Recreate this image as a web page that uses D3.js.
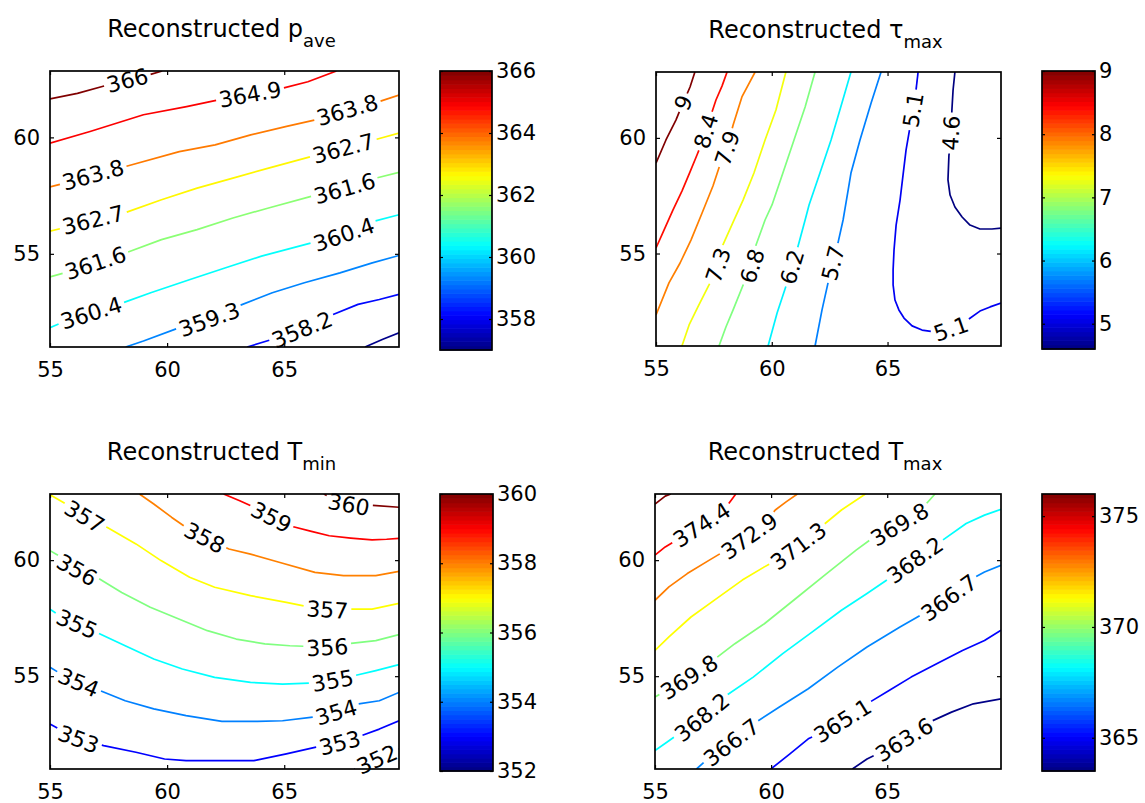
<!DOCTYPE html>
<html><head><meta charset="utf-8">
<script src="https://cdn.jsdelivr.net/npm/d3@7"></script>
<style>
body{margin:0;background:#fff;}
svg text{font-family:"DejaVu Sans",sans-serif;fill:#000;}
</style></head><body>
<svg id="chart" width="1145" height="803"></svg>
<script>
// ---------------- data ----------------
const xTicks = [55, 60, 65];
const yTicks = [55, 60];
const xDomain = [55, 69.9];
const yDomain = [51, 62.85];

// Panel 1: p_ave
const pAveRange = [357, 366];
const pAveCbarTicks = [358, 360, 362, 364, 366];
const pAveLines = [
  [366,   [[55,61.65],[56.17,61.89],[57.47,62.25],[59.22,62.68],[59.79,62.85]]],
  [364.9, [[55,59.75],[56.71,60.25],[58.99,60.97],[60.83,61.32],[62.20,61.61],[63.57,61.85],[64.94,62.11],[66.01,62.39],[67.23,62.85]]],
  [363.8, [[55,57.87],[55.49,58.00],[56.86,58.40],[58.23,58.75],[60.52,59.39],[62.05,59.68],[63.57,60.11],[65.10,60.47],[66.32,60.75],[67.69,61.18],[69.06,61.54],[69.9,61.82]]],
  [362.7, [[55,55.97],[55.56,56.11],[56.86,56.47],[58.16,56.75],[59.76,57.32],[61.28,57.82],[62.81,58.25],[64.33,58.68],[66.16,59.18],[67.54,59.54],[68.83,59.89],[69.9,60.18]]],
  [361.6, [[55,54.01],[55.61,54.18],[56.94,54.61],[58.23,55.04],[59.76,55.61],[61.28,56.04],[62.81,56.54],[64.33,56.97],[66.16,57.47],[67.61,57.82],[68.91,58.25],[69.9,58.50]]],
  [360.4, [[55,51.83],[55.64,52.11],[56.78,52.47],[57.93,52.83],[59.30,53.33],[60.98,53.90],[62.50,54.40],[64.03,54.90],[66.16,55.47],[67.54,55.83],[68.83,56.40],[69.9,56.68]]],
  [359.3, [[58.23,51],[58.99,51.26],[60.52,51.83],[61.82,52.19],[63.04,52.76],[64.49,53.33],[65.86,53.76],[67.38,54.18],[68.76,54.61],[69.9,54.93]]],
  [358.2, [[63.42,51],[64.49,51.33],[65.78,51.76],[66.93,52.33],[68.15,52.83],[69.06,53.04],[69.9,53.26]]],
  [357.1, [[68.45,51],[69.21,51.33],[69.9,51.61]]]
];
const pAveLabels = [
  ["366",58.34,62.3],["364.9",63.57,61.68],
  ["363.8",56.86,58.32],["363.8",67.69,61.18],
  ["362.7",56.86,56.40],["362.7",67.54,59.47],
  ["361.6",56.94,54.61],["361.6",67.61,57.68],
  ["360.4",56.78,52.40],["360.4",67.54,55.85],
  ["359.3",61.82,52.11],["358.2",65.78,51.69]
];

// Panel 2: tau_max
const tauRange = [4.6, 9.0];
const tauCbarTicks = [5, 6, 7, 8, 9];
const tauLines = [
  [9,   [[55,58.91],[55.43,59.91],[55.86,60.77],[56.04,61.21],[56.47,62.20],[56.68,62.85]]],
  [8.4, [[55,55.24],[55.35,56.02],[55.73,56.88],[56.12,57.70],[56.47,58.53],[56.77,59.26],[57.07,60.00],[57.33,60.86],[57.59,61.64],[57.85,62.24],[58.07,62.85]]],
  [7.9, [[55,52.34],[55.56,53.73],[56.04,54.59],[56.51,55.58],[56.99,56.75],[57.46,57.92],[57.76,58.83],[58.07,59.56],[58.33,60.56],[58.71,61.77],[59.28,62.85]]],
  [7.3, [[60.61,62.85],[60.18,61.21],[59.71,59.91],[59.23,58.48],[58.76,57.31],[58.33,56.36],[57.89,55.37],[57.68,54.50],[57.29,53.64],[56.81,52.69],[56.43,51.91],[56.12,51]]],
  [6.8, [[61.87,62.85],[61.44,61.34],[60.96,59.91],[60.48,58.48],[60.01,57.10],[59.71,56.45],[59.32,55.37],[59.15,54.46],[58.80,53.73],[58.33,52.56],[58.02,51.82],[57.72,51]]],
  [6.2, [[63.42,62.85],[63.03,61.51],[62.56,59.91],[62.08,58.48],[61.61,57.10],[61.44,56.45],[61.09,55.15],[60.87,54.42],[60.66,53.73],[60.23,52.43],[59.84,51]]],
  [5.7, [[64.72,62.85],[64.29,61.51],[63.81,59.91],[63.42,58.48],[63.30,57.75],[63.08,56.45],[62.82,55.28],[62.64,54.59],[62.43,53.73],[62.17,52.56],[61.87,51]]],
  [5.1, [[66.32,62.85],[66.23,62.07],[66.10,61.21],[65.97,60.47],[65.80,59.48],[65.67,58.40],[65.54,57.31],[65.37,56.23],[65.28,55.15],[65.24,54.29],[65.24,53.64],[65.32,52.99],[65.49,52.56],[65.71,52.21],[66.06,51.87],[66.49,51.69],[67.05,51.61],[67.74,51.74],[68.39,52.08],[68.99,52.51],[69.43,52.69],[69.9,52.86]]],
  [4.6, [[67.91,62.85],[67.83,62.07],[67.78,61.21],[67.74,60.21],[67.65,59.22],[67.61,58.18],[67.70,57.53],[67.91,57.01],[68.22,56.58],[68.56,56.23],[68.99,56.06],[69.51,56.06],[69.9,56.10]]]
];
const tauLabels = [
  ["9",56.21,61.51],["8.4",57.12,60.30],["7.9",58.07,59.56],
  ["7.3",57.68,54.50],["6.8",59.15,54.46],["6.2",60.87,54.42],["5.7",62.64,54.59],
  ["5.1",66.10,61.21],["4.6",67.74,60.21],["5.1",67.74,51.74]
];

// Panel 3: T_min
const tminRange = [352, 360];
const tminCbarTicks = [352, 354, 356, 358, 360];
const tminLines = [
  [360, [[66.69,62.85],[67.3,62.55],[67.76,62.40],[68.75,62.36],[69.9,62.28]]],
  [359, [[62.41,62.85],[63.10,62.56],[63.71,62.28],[64.47,61.84],[65.39,61.44],[66.16,61.24],[66.92,61.05],[67.84,60.95],[68.75,60.87],[69.37,60.90],[69.9,60.94]]],
  [358, [[58.82,62.85],[59.43,62.42],[60.20,61.84],[60.81,61.41],[61.57,60.98],[62.33,60.62],[62.64,60.48],[63.56,60.26],[64.78,59.91],[66.31,59.47],[67.53,59.33],[68.91,59.33],[69.9,59.52]]],
  [357, [[55,62.82],[55.92,62.28],[56.53,61.84],[57.45,61.41],[58.67,60.70],[59.74,59.98],[60.96,59.26],[62.03,58.83],[63.56,58.47],[65.09,58.18],[66.00,57.99],[66.84,57.87],[67.76,57.89],[68.75,57.89],[69.9,58.14]]],
  [356, [[55,60.41],[55.38,60.19],[56.15,59.58],[56.99,59.26],[58.06,58.61],[59.28,57.97],[60.50,57.46],[61.72,56.96],[62.95,56.60],[64.17,56.39],[65.24,56.31],[66.84,56.25],[67.84,56.41],[68.91,56.53],[69.9,56.79]]],
  [355, [[55,57.89],[55.5,57.55],[56.15,57.25],[56.99,56.89],[58.21,56.31],[59.43,55.74],[60.65,55.31],[62.03,54.95],[63.56,54.73],[64.93,54.66],[66.16,54.70],[67.07,54.81],[67.99,55.02],[68.91,55.24],[69.9,55.50]]],
  [354, [[55,55.38],[55.6,55.02],[56.22,54.73],[57.14,54.38],[58.21,53.94],[59.43,53.59],[60.81,53.30],[62.34,53.05],[63.86,53.05],[64.93,53.08],[66.31,53.25],[67.23,53.45],[68.14,53.80],[69.06,53.94],[69.9,54.30]]],
  [353, [[55,52.94],[55.6,52.6],[56.22,52.29],[57.29,52.01],[58.67,51.72],[59.89,51.43],[60.81,51.36],[62.18,51.36],[63.71,51.36],[65.09,51.65],[66.31,51.93],[67.38,52.13],[68.30,52.44],[69.06,52.72],[69.9,53.08]]],
  [352, [[67.99,51],[68.91,51.40],[69.9,51.86]]]
];
const tminLabels = [
  ["360",67.76,62.4],["359",64.40,61.77],["358",61.57,60.91],
  ["357",56.48,61.88],["357",66.84,57.8],
  ["356",56.15,59.58],["356",66.84,56.17],
  ["355",56.15,57.25],["355",67.07,54.81],
  ["354",56.22,54.73],["354",67.23,53.40],
  ["353",56.22,52.29],["353",67.38,52.08],
  ["352",68.98,51.36]
];

// Panel 4: T_max
const tmaxRange = [363.5, 376];
const tmaxCbarTicks = [365, 370, 375];
const tmaxLines = [
  [376,   [[55,62.42],[55.44,62.76],[55.68,62.85]]],
  [374.4, [[55,60.22],[55.44,60.57],[55.92,60.86],[56.55,61.22],[57.34,61.73],[58.13,62.37],[58.48,62.85]]],
  [372.9, [[55,58.27],[55.60,58.85],[56.39,59.42],[57.34,60.00],[58.29,60.57],[59.08,61.05],[59.71,61.58],[60.18,62.16],[60.66,62.52],[61.13,62.85]]],
  [371.3, [[55,56.11],[55.60,56.69],[56.55,57.55],[57.65,58.34],[58.76,59.14],[59.71,59.71],[60.4,60.1],[61.13,60.57],[62.24,61.51],[63.03,62.16],[64.06,62.85]]],
  [369.8, [[55,54.10],[55.7,54.5],[56.47,54.96],[57.50,55.68],[58.44,56.40],[59.71,57.26],[60.97,58.27],[62.39,59.42],[63.66,60.43],[64.45,61.01],[65.55,61.55],[66.50,62.23],[67.06,62.85]]],
  [368.2, [[55,51.79],[55.60,52.22],[56.3,52.7],[57.02,53.23],[57.97,54.10],[59.23,54.96],[60.50,55.97],[61.76,56.90],[63.03,57.84],[64.13,58.56],[65.08,59.21],[67.29,60.79],[68.40,61.58],[69.19,61.94],[69.9,62.19]]],
  [366.7, [[56.79,51],[57.34,51.50],[58.29,52.15],[59.23,52.94],[60.34,53.66],[61.60,54.46],[62.87,55.39],[64.13,56.26],[65.55,57.12],[66.82,57.85],[67.69,58.41],[68.56,59.14],[69.19,59.49],[69.9,59.78]]],
  [365.1, [[59.99,51],[60.81,51.65],[61.60,52.30],[62.4,52.7],[63.11,53.1],[64.13,53.81],[65.08,54.38],[66.03,54.96],[67.13,55.54],[68.24,56.11],[69.19,56.54],[69.9,56.98]]],
  [363.6, [[63.50,51],[64.13,51.43],[64.9,51.8],[65.79,52.3],[66.82,53.02],[67.77,53.45],[68.71,53.81],[69.9,54.02]]]
];
const tmaxLabels = [
  ["374.4",57.02,61.51],["372.9",59.08,61.01],["371.3",61.21,60.57],
  ["369.8",56.47,54.96],["369.8",65.55,61.51],
  ["368.2",57.02,53.23],["368.2",66.2,60.0],
  ["366.7",58.29,52.15],["366.7",67.69,58.34],
  ["365.1",63.11,53.02],["363.6",65.79,52.15]
];

// ---------------- drawing ----------------
const svg = d3.select("#chart");
function jet(t){
  t = Math.max(0, Math.min(1, t));
  const c = v => Math.round(255 * Math.max(0, Math.min(1, v)));
  return `rgb(${c(1.5-Math.abs(4*t-3))},${c(1.5-Math.abs(4*t-2))},${c(1.5-Math.abs(4*t-1))})`;
}
const FS = "21px";
const LFS = "22px";

const panels = [
  {box:[50,399,71,347],   cbar:[440,492,71,350],   title:"Reconstructed p", sub:"ave", range:pAveRange, cticks:pAveCbarTicks, lines:pAveLines, labels:pAveLabels},
  {box:[656,1001,72,346], cbar:[1042,1095,71,349], title:"Reconstructed τ", sub:"max", range:tauRange,  cticks:tauCbarTicks,  lines:tauLines,  labels:tauLabels},
  {box:[50,399,494,769],  cbar:[440,493,494,771],  title:"Reconstructed T", sub:"min", range:tminRange, cticks:tminCbarTicks, lines:tminLines, labels:tminLabels},
  {box:[655,1001,494,769],cbar:[1042,1095,494,771],title:"Reconstructed T", sub:"max", range:tmaxRange, cticks:tmaxCbarTicks, lines:tmaxLines, labels:tmaxLabels}
];

function styleAxis(sel){
  sel.select(".domain").remove();
  sel.selectAll("line").attr("stroke","#000").attr("stroke-width",1.2);
  sel.selectAll("text").style("font-size",FS).style("font-family",'"DejaVu Sans",sans-serif').attr("fill","#000");
}

panels.forEach((p, i) => {
  const [bx0,bx1,by0,by1] = p.box;
  const x = d3.scaleLinear().domain(xDomain).range([bx0,bx1]);
  const y = d3.scaleLinear().domain(yDomain).range([by1,by0]);
  const g = svg.append("g");
  const clipId = "clip" + i;
  svg.append("clipPath").attr("id", clipId).append("rect")
    .attr("x", bx0).attr("y", by0).attr("width", bx1-bx0).attr("height", by1-by0);
  const lineG = g.append("g").attr("clip-path", `url(#${clipId})`);
  const labG = g.append("g");
  const col = v => jet((v - p.range[0]) / (p.range[1] - p.range[0]));

  p.lines.forEach(([v, pts]) => {
    const P = pts.map(d => [x(d[0]), y(d[1])]);
    const cum = [0];
    for (let k = 1; k < P.length; k++) cum.push(cum[k-1] + Math.hypot(P[k][0]-P[k-1][0], P[k][1]-P[k-1][1]));
    const total = cum[cum.length-1];
    const at = s => {
      s = Math.max(0, Math.min(total, s));
      let k = 0;
      while (k < P.length-2 && cum[k+1] < s) k++;
      const L = cum[k+1]-cum[k] || 1, t = (s-cum[k])/L;
      return [P[k][0]+(P[k+1][0]-P[k][0])*t, P[k][1]+(P[k+1][1]-P[k][1])*t];
    };
    const gaps = [];
    p.labels.filter(l => +l[0] === v).forEach(l => {
      const lx = x(l[1]), ly = y(l[2]);
      let best = Infinity, bs = 0;
      for (let k = 0; k < P.length-1; k++) {
        const ax = P[k][0], ay = P[k][1], dx = P[k+1][0]-ax, dy = P[k+1][1]-ay;
        const L2 = dx*dx+dy*dy || 1;
        const t = Math.max(0, Math.min(1, ((lx-ax)*dx+(ly-ay)*dy)/L2));
        const px = ax+dx*t, py = ay+dy*t, d2 = (px-lx)**2+(py-ly)**2;
        if (d2 < best) { best = d2; bs = cum[k] + t*Math.sqrt(L2); }
      }
      const a = at(bs-9), b = at(bs+9);
      let ang = Math.atan2(b[1]-a[1], b[0]-a[0]) * 180 / Math.PI;
      if (ang > 90) ang -= 180;
      if (ang < -90) ang += 180;
      const c = at(bs);
      const t = labG.append("text")
        .attr("transform", `translate(${c[0]},${c[1]}) rotate(${ang})`)
        .attr("text-anchor", "middle").attr("dy", "0.36em")
        .style("font-size", LFS).text(l[0]);
      const w = t.node().getComputedTextLength();
      gaps.push([bs - w/2 - 3, bs + w/2 + 3]);
    });
    gaps.sort((a,b) => a[0]-b[0]);
    const segs = []; let start = 0;
    gaps.forEach(([g0,g1]) => { if (g0 > start) segs.push([start,g0]); start = Math.max(start,g1); });
    if (start < total) segs.push([start,total]);
    segs.forEach(([s0,s1]) => {
      const sp = [at(s0)];
      for (let k = 0; k < P.length; k++) if (cum[k] > s0 && cum[k] < s1) sp.push(P[k]);
      sp.push(at(s1));
      lineG.append("path").attr("d", d3.line()(sp)).attr("fill","none")
        .attr("stroke", col(v)).attr("stroke-width", 1.7).attr("stroke-linejoin","round");
    });
  });

  // axes
  const axB = g.append("g").attr("transform",`translate(0,${by1})`)
    .call(d3.axisBottom(x).tickValues(xTicks).tickSize(-4).tickPadding(15).tickFormat(d3.format("d")));
  styleAxis(axB);
  const axT = g.append("g").attr("transform",`translate(0,${by0})`)
    .call(d3.axisTop(x).tickValues(xTicks).tickSize(-4).tickFormat(""));
  styleAxis(axT);
  const axL = g.append("g").attr("transform",`translate(${bx0},0)`)
    .call(d3.axisLeft(y).tickValues(yTicks).tickSize(-4).tickPadding(10).tickFormat(d3.format("d")));
  styleAxis(axL);
  const axR = g.append("g").attr("transform",`translate(${bx1},0)`)
    .call(d3.axisRight(y).tickValues(yTicks).tickSize(-4).tickFormat(""));
  styleAxis(axR);
  g.append("rect").attr("x",bx0).attr("y",by0).attr("width",bx1-bx0).attr("height",by1-by0)
    .attr("fill","none").attr("stroke","#000").attr("stroke-width",1.7);

  // title
  const tt = g.append("text").attr("x",(bx0+bx1)/2 - 3).attr("y",by0-34).attr("text-anchor","middle").style("font-size","24px");
  tt.append("tspan").text(p.title);
  tt.append("tspan").attr("dy",10).style("font-size","18px").text(p.sub);

  // colorbar
  const [cx0,cx1,cy0,cy1] = p.cbar;
  const cy = d3.scaleLinear().domain(p.range).range([cy1,cy0]);
  const N = 64, step = (p.range[1]-p.range[0])/N;
  const bands = d3.range(N);
  g.append("g").selectAll("rect").data(bands).join("rect")
    .attr("x",cx0).attr("width",cx1-cx0)
    .attr("y", k => cy(p.range[0]+(k+1)*step))
    .attr("height", k => cy(p.range[0]+k*step) - cy(p.range[0]+(k+1)*step) + 0.6)
    .attr("fill", k => jet((k+0.5)/N));
  const cR = g.append("g").attr("transform",`translate(${cx1},0)`)
    .call(d3.axisRight(cy).tickValues(p.cticks).tickSize(-3).tickPadding(4).tickFormat(d3.format("d")));
  styleAxis(cR);
  const cL = g.append("g").attr("transform",`translate(${cx0},0)`)
    .call(d3.axisLeft(cy).tickValues(p.cticks).tickSize(-3).tickFormat(""));
  styleAxis(cL);
  g.append("rect").attr("x",cx0).attr("y",cy0).attr("width",cx1-cx0).attr("height",cy1-cy0)
    .attr("fill","none").attr("stroke","#000").attr("stroke-width",1.7);
});
</script>
</body></html>
